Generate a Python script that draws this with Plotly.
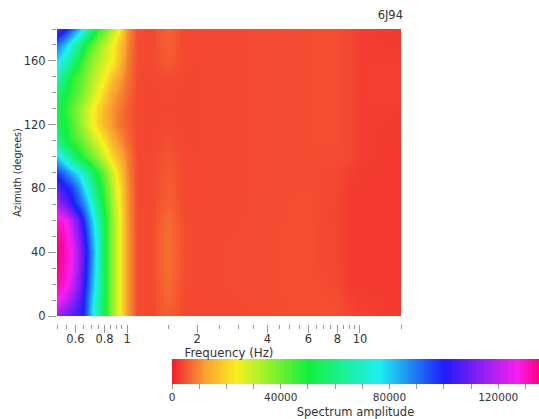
import plotly.graph_objects as go

W, H = 539, 419


def px(x):
    return x / W


def py(y):
    return 1 - y / H


frequency = [0.5, 0.54, 0.58, 0.62, 0.66, 0.7, 0.75, 0.8, 0.86, 0.92, 1.0, 1.1,
             1.25, 1.4, 1.5, 1.6, 1.75, 2, 3, 4, 6, 8, 9, 10, 15]
azimuth = [0, 10, 20, 30, 40, 50, 60, 70, 80, 90, 100, 110, 120, 130, 140, 150, 160, 170, 180]
row_000 = [115000, 110000, 106000, 103000, 96000, 80000, 65000, 50000, 36000, 25000, 12000, 4200, 3800, 4900, 5500, 4900, 4000, 3800, 4000, 4200, 4400, 4300, 3600, 3000, 2600]
row_010 = [128000, 122000, 115000, 107000, 97000, 82000, 66000, 50000, 36000, 25000, 12000, 4200, 3800, 5600, 6500, 5600, 4000, 3800, 4000, 4200, 4400, 4300, 3400, 3000, 2600]
row_020 = [132000, 129000, 122000, 112000, 100000, 86000, 69000, 50000, 36000, 25000, 12000, 4200, 3800, 5900, 7000, 5900, 4200, 3800, 4200, 4200, 4500, 3800, 2800, 2600, 2500]
row_030 = [134000, 130000, 125000, 114000, 102000, 88000, 70000, 50000, 36000, 25000, 12000, 4200, 3800, 6200, 7300, 6200, 4300, 3800, 4200, 4200, 4500, 3700, 2800, 2600, 2500]
row_040 = [135000, 131000, 126000, 115000, 103000, 89000, 71000, 50000, 36000, 25000, 12000, 4200, 3800, 6300, 7500, 6300, 4300, 3800, 4200, 4200, 4500, 3600, 2800, 2600, 2500]
row_050 = [133000, 130000, 123000, 112000, 100000, 86000, 69000, 50000, 36000, 25000, 12000, 4200, 3800, 6200, 7300, 6200, 4300, 3800, 4100, 4200, 4500, 3600, 2800, 2600, 2500]
row_060 = [130000, 127000, 118000, 107000, 95000, 82000, 66000, 50000, 36000, 25000, 11500, 4200, 3800, 5900, 7000, 5900, 4200, 3800, 4000, 4200, 4400, 3600, 2800, 2600, 2500]
row_070 = [118000, 110000, 102000, 94000, 86000, 74000, 60000, 47000, 34000, 24000, 11000, 4000, 3800, 5200, 6000, 5200, 4100, 3800, 4000, 4200, 4400, 3600, 2800, 2600, 2500]
row_080 = [108000, 101000, 96000, 87000, 76000, 66000, 54000, 43000, 32000, 22500, 11000, 4000, 3800, 5000, 5800, 5000, 4000, 3800, 4000, 4100, 4300, 3700, 2800, 2600, 2500]
row_090 = [97000, 90000, 83000, 76000, 67000, 58000, 48000, 39000, 29000, 20000, 10000, 4000, 3800, 4900, 5500, 4900, 4000, 3800, 4000, 4100, 4300, 3800, 3000, 2700, 2500]
row_100 = [80000, 70000, 60000, 52000, 46000, 40000, 34000, 28000, 20000, 15000, 9000, 4000, 3800, 4500, 5000, 4500, 3900, 3800, 4000, 4100, 4300, 4200, 4000, 2900, 2600]
row_110 = [62000, 52000, 47000, 42000, 37000, 32000, 27000, 21000, 15000, 11000, 7000, 3800, 3700, 4100, 4400, 4100, 3800, 3800, 4000, 4100, 4300, 4300, 4000, 2900, 2600]
row_120 = [54000, 50000, 44000, 37000, 31000, 26000, 20000, 15000, 11000, 8000, 6000, 3800, 3700, 3800, 3900, 3800, 3800, 3800, 4000, 4100, 4300, 4300, 4000, 2900, 2700]
row_130 = [53000, 48000, 42000, 36000, 30000, 26000, 20000, 15000, 11000, 8500, 6000, 3800, 3700, 3800, 3800, 3800, 3800, 3800, 4000, 4100, 4300, 4300, 4000, 2900, 2800]
row_140 = [58000, 51000, 46000, 41000, 36000, 31000, 25000, 19000, 13000, 10000, 7000, 3900, 3700, 3800, 3900, 3800, 3800, 3800, 4000, 4100, 4300, 4300, 4000, 2900, 3200]
row_150 = [68000, 58000, 48000, 43000, 38000, 33000, 28500, 24000, 17000, 13000, 8000, 4000, 3700, 4000, 4200, 4000, 3800, 3800, 4000, 4100, 4300, 4300, 4000, 2900, 3200]
row_160 = [78000, 70000, 60000, 50000, 43000, 37000, 32000, 28000, 24000, 17000, 9000, 4200, 3800, 4900, 5500, 4900, 3900, 3800, 4000, 4100, 4300, 4300, 4000, 2900, 3000]
row_170 = [90000, 81000, 71000, 60000, 50000, 43000, 36000, 30000, 25000, 18000, 10000, 4300, 3800, 5200, 6000, 5200, 4000, 3800, 4000, 4100, 4300, 4300, 4000, 2900, 2700]
row_180 = [108000, 101000, 92000, 82000, 72000, 60000, 47000, 40000, 31000, 24000, 11000, 4500, 3800, 5200, 6000, 5200, 4000, 3800, 4000, 4100, 4300, 4300, 4000, 2900, 2600]
amplitude = [row_000, row_010, row_020, row_030, row_040, row_050, row_060, row_070, row_080, row_090,
             row_100, row_110, row_120, row_130, row_140, row_150, row_160, row_170, row_180]

freq_major = [0.6, 0.8, 1, 2, 4, 6, 8, 10]
freq_labels = ["0.6", "0.8", "1", "2", "4", "6", "8", "10"]
freq_minor = [0.5, 0.55, 0.65, 0.7, 0.75, 0.85, 0.9, 0.95, 1.5, 2.5, 3, 3.5, 4.5, 5, 5.5, 6.5, 7, 7.5, 8.5, 9, 9.5, 15]
az_major = [0, 40, 80, 120, 160]
az_minor = [10, 20, 30, 50, 60, 70, 90, 100, 110, 130, 140, 150, 170, 180]
bar_ticks = [0, 10000, 20000, 30000, 40000, 50000, 60000, 70000, 80000, 90000, 100000, 110000, 120000, 130000]
bar_labels = ["0", "", "", "", "40000", "", "", "", "80000", "", "", "", "120000", ""]

ZMAX = 135000
colorscale = [
    [0, "#f21e30"], [12000 / ZMAX, "#f8a030"], [24000 / ZMAX, "#f8f020"], [50000 / ZMAX, "#14f03c"],
    [76000 / ZMAX, "#1ef0f0"], [100000 / ZMAX, "#1e1efa"], [127000 / ZMAX, "#fa1ef0"], [1, "#fa0082"],
]
INK = "#333333"
TICK = "#999999"
FONT = "DejaVu Sans"

fig = go.Figure(go.Heatmap(
    x=frequency, y=azimuth, z=amplitude, zmin=0, zmax=ZMAX, zsmooth="best", colorscale=colorscale,
    colorbar=dict(
        orientation="h", lenmode="pixels", len=367, thicknessmode="pixels", thickness=25,
        x=px(172), xanchor="left", y=py(359), yanchor="top", xpad=0, ypad=0, outlinewidth=0,
        tickmode="array", tickvals=bar_ticks, ticktext=bar_labels, ticks="outside", ticklen=5,
        tickcolor=TICK, tickfont=dict(family=FONT, size=10.5, color=INK),
        title=dict(text="Spectrum amplitude", side="bottom", font=dict(family=FONT, size=11.5, color=INK)),
    ),
))
fig.update_layout(
    width=W, height=H, margin=dict(l=0, r=0, t=0, b=0, autoexpand=False),
    paper_bgcolor="white", plot_bgcolor="white", font=dict(family=FONT, size=11, color=INK),
    title=dict(text="6J94", x=px(403), xanchor="right", y=py(15), yanchor="middle",
               font=dict(family=FONT, size=11.5, color=INK)),
    xaxis=dict(
        type="log", range=[-0.30103, 1.17609], domain=[px(57), px(401)], anchor="free", position=py(324),
        tickmode="array", tickvals=freq_major, ticktext=freq_labels, ticks="outside", ticklen=8, tickcolor=TICK,
        ticklabelstandoff=-4,
        minor=dict(tickmode="array", tickvals=freq_minor, ticks="outside", ticklen=4, tickcolor=TICK),
        showgrid=False, zeroline=False, showline=False, tickfont=dict(size=11.5),
        title=dict(text="Frequency (Hz)", standoff=0, font=dict(size=11.8)),
    ),
    yaxis=dict(
        range=[0, 180], domain=[py(316), py(29)],
        tickmode="array", tickvals=az_major, ticks="outside", ticklen=8, tickcolor=TICK,
        minor=dict(tickmode="array", tickvals=az_minor, ticks="outside", ticklen=4, tickcolor=TICK),
        showgrid=False, zeroline=False, showline=False, tickfont=dict(size=11.5),
        title=dict(text="Azimuth (degrees)", standoff=0, font=dict(size=9.6)),
    ),
)
fig.write_html("out.html", config={"displayModeBar": False}, post_script="document.body.style.margin='0';")
